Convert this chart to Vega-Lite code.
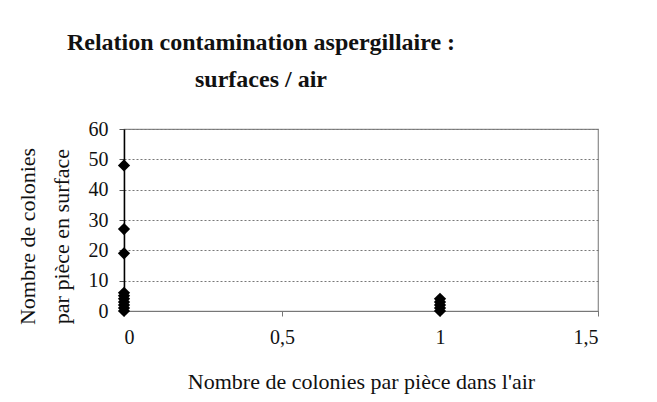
{
  "$schema": "https://vega.github.io/schema/vega-lite/v6.json",
  "width": 474,
  "height": 182,
  "autosize": {"type": "none"},
  "padding": {"left": 124, "top": 129, "right": 59, "bottom": 91},
  "background": "white",
  "config": {
    "font": "Liberation Serif",
    "view": {"stroke": "#8a8a8a", "strokeWidth": 1.2}
  },
  "title": {
    "text": ["Relation contamination aspergillaire :", "surfaces / air"],
    "font": "Liberation Serif",
    "fontSize": 24,
    "fontWeight": "bold",
    "color": "#111",
    "lineHeight": 37,
    "anchor": "middle",
    "frame": "group",
    "dx": -100,
    "offset": 27
  },
  "data": {
    "values": [
      {"air": 0, "surface": 48},
      {"air": 0, "surface": 27},
      {"air": 0, "surface": 19},
      {"air": 0, "surface": 6},
      {"air": 0, "surface": 5},
      {"air": 0, "surface": 4},
      {"air": 0, "surface": 3},
      {"air": 0, "surface": 2},
      {"air": 0, "surface": 1},
      {"air": 0, "surface": 0},
      {"air": 1, "surface": 4},
      {"air": 1, "surface": 3},
      {"air": 1, "surface": 2},
      {"air": 1, "surface": 1},
      {"air": 1, "surface": 0}
    ]
  },
  "mark": {"type": "point", "shape": "diamond", "filled": true, "color": "#000", "size": 150, "opacity": 1},
  "encoding": {
    "x": {
      "field": "air",
      "type": "quantitative",
      "scale": {"domain": [0, 1.5], "nice": false},
      "axis": {
        "values": [0, 0.5, 1, 1.5],
        "format": "~g",
        "labelExpr": "replace(datum.label, '.', ',')",
        "grid": false,
        "domainColor": "#777",
        "domainWidth": 1.2,
        "tickColor": "#777",
        "tickSize": 5,
        "labelFont": "Liberation Serif",
        "labelFontSize": 20,
        "labelColor": "#111",
        "labelPadding": 11,
        "title": "Nombre de colonies par pièce dans l'air",
        "titleFont": "Liberation Serif",
        "titleFontSize": 22,
        "titleFontWeight": "normal",
        "titleColor": "#111",
        "titleY": 70,
        "titleBaseline": "middle"
      }
    },
    "y": {
      "field": "surface",
      "type": "quantitative",
      "scale": {"domain": [0, 60], "nice": false},
      "axis": {
        "values": [0, 10, 20, 30, 40, 50, 60],
        "grid": true,
        "gridColor": "#777",
        "gridDash": [2, 2],
        "gridWidth": 1,
        "domainColor": "#000",
        "domainWidth": 1.5,
        "tickColor": "#555",
        "tickSize": 5,
        "labelFont": "Liberation Serif",
        "labelFontSize": 20,
        "labelColor": "#111",
        "labelPadding": 11,
        "title": ["Nombre de colonies", "par pièce en surface"],
        "titleFont": "Liberation Serif",
        "titleFontSize": 22,
        "titleFontWeight": "normal",
        "titleColor": "#111",
        "titleAngle": -90,
        "titleAlign": "center",
        "titleBaseline": "top",
        "titleLineHeight": 34,
        "titleX": -107,
        "titleY": 107
      }
    }
  }
}
